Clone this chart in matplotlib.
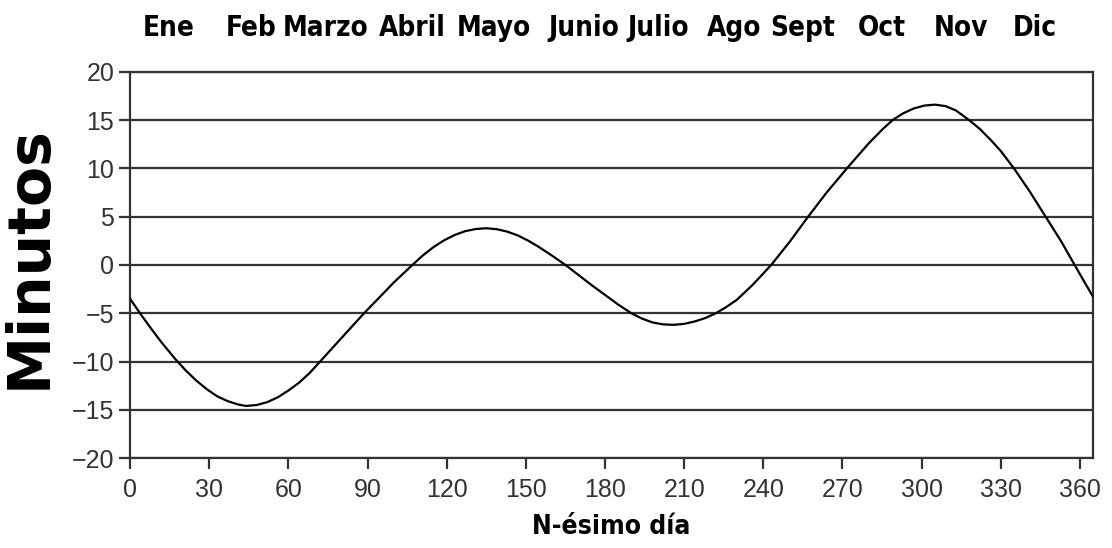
import numpy as np
import matplotlib
matplotlib.use("Agg")
import matplotlib.pyplot as plt
import matplotlib.transforms as mtransforms

# Equation of time (day of year, minutes)
dias = [0, 4, 8, 12, 17, 21, 25, 29, 33, 37, 41, 44, 48, 52, 56, 60, 64, 68,
        72, 76, 80, 85, 89, 94, 100, 107, 111, 115, 119, 123, 127, 131, 135,
        139, 143, 147, 151, 155, 160, 165, 170, 175, 180, 185, 190, 194, 198,
        202, 206, 210, 214, 218, 222, 226, 230, 236, 243, 250, 257, 264, 272,
        280, 285, 289, 293, 297, 301, 305, 309, 313, 318, 322, 326, 330, 335,
        341, 347, 353, 358, 362, 365]
minutos = [-3.5, -5.1, -6.6, -8.05, -9.7, -10.9, -11.95, -12.85, -13.6, -14.1,
           -14.45, -14.6, -14.5, -14.2, -13.7, -13.0, -12.2, -11.2,
           -10.0, -8.8, -7.6, -6.1, -4.9, -3.5, -1.8, 0.0, 1.0, 1.85, 2.55,
           3.1, 3.5, 3.72, 3.8, 3.7, 3.45, 3.05, 2.5, 1.85, 0.95, 0.0, -1.05,
           -2.1, -3.1, -4.1, -5.0, -5.55, -5.95, -6.15, -6.2, -6.1, -5.85,
           -5.5, -5.0, -4.35, -3.6, -2.05, 0.0, 2.4, 5.0, 7.5, 10.1, 12.6,
           14.0, 15.0, 15.7, 16.2, 16.5, 16.6, 16.45, 16.0, 15.0, 14.1, 13.0,
           11.8, 10.0, 7.6, 5.0, 2.4, 0.0, -1.9, -3.3]

meses = ["Ene", "Feb", "Marzo", "Abril", "Mayo", "Junio", "Julio", "Ago",
         "Sept", "Oct", "Nov", "Dic"]
meses_x = [14.5, 46, 74, 107, 138, 172, 200, 229, 255, 285, 315, 343]

xticks = list(range(0, 361, 30))
yticks = list(range(-20, 21, 5))

fig = plt.figure(figsize=(11.12, 5.48), dpi=100)
ax = fig.add_axes([0.117, 0.164, 0.866, 0.705])

for y in yticks:
    ax.axhline(y, color="#333333", lw=1.6, zorder=1)
ax.plot(dias, minutos, color="black", lw=1.6, zorder=3,
        solid_joinstyle="round")

ax.set_xlim(0, 365)
ax.set_ylim(-20, 20)
ax.set_xticks(xticks)
ax.set_yticks(yticks)
ax.set_yticklabels([str(v).replace("-", "\u2212") for v in yticks])
for s in ax.spines.values():
    s.set_color("#333333")
    s.set_linewidth(1.6)
ax.tick_params(axis="both", length=8, width=1.6, color="#333333",
               labelsize=18, labelcolor="#333333")
ax.tick_params(axis="x", pad=6)
for lab in ax.get_xticklabels() + ax.get_yticklabels():
    lab.set_family(["Liberation Sans", "DejaVu Sans"])

ax.set_xlabel("N-ésimo día", fontsize=19, fontweight="bold",
              family="DejaVu Sans", fontstretch="condensed", labelpad=9)

trans = mtransforms.blended_transform_factory(ax.transData, fig.transFigure)
for m, x in zip(meses, meses_x):
    ax.text(x, 0.949, m, transform=trans, ha="center", va="center",
            fontsize=20, fontweight="bold",
            family="DejaVu Sans", fontstretch="condensed")

fig.text(0.026, 0.53, "Minutos", rotation=90, ha="center", va="center",
         fontsize=42, fontweight="bold", family=["DejaVu Sans"])

fig.savefig("out.png", dpi=100)
